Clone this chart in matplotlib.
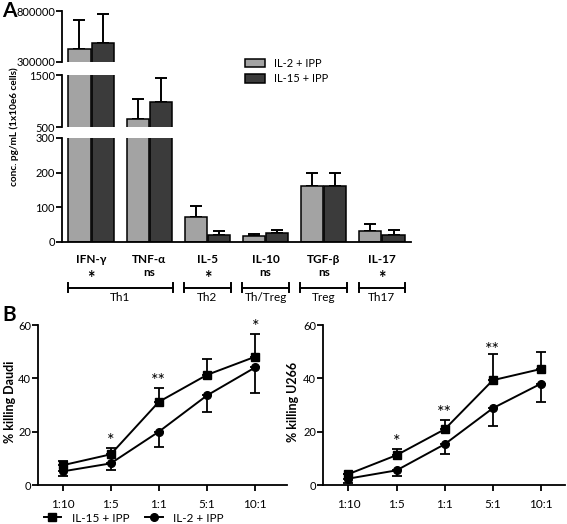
import numpy as np
import matplotlib
matplotlib.use('Agg')
import matplotlib.pyplot as plt

plt.rcParams['font.family'] = ['Lato', 'DejaVu Sans']
plt.rcParams['axes.linewidth'] = 1.3
plt.rcParams['xtick.major.width'] = 1.3
plt.rcParams['ytick.major.width'] = 1.3

# ---- panel A data ----
cytokines = ['IFN-γ', 'TNF-α', 'IL-5', 'IL-10', 'TGF-β', 'IL-17']
signif_a = ['*', 'ns', '*', 'ns', 'ns', '*']
il2_mean = [427000, 660, 72, 18, 162, 33]
il2_err = [285000, 373, 33, 4, 37, 18]
il15_mean = [486000, 975, 19, 26, 162, 20]
il15_err = [284000, 473, 14, 10, 37, 15]
groups = ['Th1', 'Th2', 'Th/Treg', 'Treg', 'Th17']
group_span = [(0, 1), (2, 2), (3, 3), (4, 4), (5, 5)]

# ---- panel B data ----
ratios = ['1:10', '1:5', '1:1', '5:1', '10:1']
daudi_il15 = [7.4, 11.5, 31.2, 41.3, 48.1]
daudi_il15_err = [1.7, 2.4, 5.1, 6.0, 8.6]
daudi_il2 = [5.1, 8.1, 20.0, 33.6, 44.1]
daudi_il2_err = [1.7, 2.3, 5.6, 6.3, 9.6]
daudi_stars = ['', '*', '**', '', '*']
daudi_star_y = [0, 16.5, 39.0, 0, 59.3]
u266_il15 = [4.1, 11.2, 20.9, 39.3, 43.5]
u266_il15_err = [0.0, 2.4, 3.4, 9.7, 6.3]
u266_il2 = [2.4, 5.5, 15.3, 28.8, 38.0]
u266_il2_err = [1.5, 2.0, 3.8, 6.6, 7.0]
u266_stars = ['', '*', '**', '**', '']
u266_star_y = [0, 16.2, 27.0, 50.6, 0]

W, H = 567, 524
fig = plt.figure(figsize=(W / 100, H / 100), dpi=100)


def px_axes(x0, x1, y0, y1):
    # pixel box (top-left origin) -> axes
    return fig.add_axes([x0 / W, 1 - y1 / H, (x1 - x0) / W, (y1 - y0) / H])


light, dark = '#a3a3a3', '#3b3b3b'
x = np.arange(len(cytokines))
bw, off = 0.38, 0.2

# three segments of the broken axis
seg_boxes = [(11, 62), (75, 127), (138, 242)]
seg_lims = [(300000, 800000), (500, 1500), (0, 300)]
seg_ticks = [[300000, 800000], [500, 1500], [0, 100, 200, 300]]
axes_a = []
for (y0, y1), lim, tks in zip(seg_boxes, seg_lims, seg_ticks):
    ax = px_axes(62, 411, y0, y1)
    b1 = ax.bar(x - off, il2_mean, bw, color=light, edgecolor='k', lw=1.1,
                label='IL-2 + IPP', zorder=2)
    b2 = ax.bar(x + off, il15_mean, bw, color=dark, edgecolor='k', lw=1.1,
                label='IL-15 + IPP', zorder=2)
    ax.errorbar(x - off, il2_mean, yerr=[np.zeros(6), il2_err], fmt='none',
                ecolor='k', elinewidth=1.4, capsize=4.2, capthick=1.4, zorder=1)
    ax.errorbar(x + off, il15_mean, yerr=[np.zeros(6), il15_err], fmt='none',
                ecolor='k', elinewidth=1.4, capsize=4.2, capthick=1.4, zorder=1)
    ax.set_ylim(lim)
    ax.set_xlim(-0.5, 5.5)
    ax.set_yticks(tks)
    ax.tick_params(axis='y', length=4, labelsize=8, pad=1)
    for s in ['top', 'right', 'bottom']:
        ax.spines[s].set_visible(False)
    ax.set_xticks([])
    axes_a.append(ax)

axb = axes_a[-1]
axb.spines['bottom'].set_visible(True)
trans = axb.get_xaxis_transform()
for i, (c, s) in enumerate(zip(cytokines, signif_a)):
    axb.text(i, -0.165, c, transform=trans, ha='center', va='center',
             fontsize=8.5, fontweight='bold')
    if s == '*':
        axb.text(i, -0.355, s, transform=trans, ha='center', va='center',
                 fontweight='bold', fontsize=13)
    else:
        axb.text(i, -0.295, s, transform=trans, ha='center', va='center',
                 fontweight='bold', fontsize=8.5)
for g, (a, b) in zip(groups, group_span):
    xs = [a - 0.4, b + 0.4]
    axb.plot(xs, [-0.44, -0.44], transform=trans, color='k', lw=1.4, clip_on=False)
    for xx in xs:
        axb.plot([xx, xx], [-0.395, -0.485], transform=trans, color='k', lw=1.4,
                 clip_on=False)
    axb.text((a + b) / 2, -0.535, g, transform=trans, ha='center', va='center',
             fontsize=8.5)

fig.legend(handles=[b1, b2], loc='upper left', bbox_to_anchor=(235 / W, 1 - 48 / H),
           frameon=False, fontsize=8, handlelength=1.8, handleheight=0.8,
           handletextpad=0.8, labelspacing=0.4)
fig.text(14 / W, 1 - 127 / H, 'conc. pg/mL (1x10e6 cells)', rotation=90,
         ha='center', va='center', fontsize=7.2, fontweight='bold')
fig.text(2 / W, 1 - 11 / H, 'A', fontsize=15, fontweight='bold', va='center')
fig.text(2 / W, 1 - 315 / H, 'B', fontsize=15, fontweight='bold', va='center')


# ---- panel B ----
def killing(ax, s15, e15, s2, e2, stars, star_y, ylabel, xr, lab_x):
    xb = np.arange(len(ratios))
    l15, = ax.plot(xb, s15, color='k', marker='s', ms=5.5, lw=1.4, label='IL-15 + IPP')
    l2, = ax.plot(xb, s2, color='k', marker='o', ms=5.5, lw=1.4, label='IL-2 + IPP')
    ax.errorbar(xb, s15, yerr=[np.zeros(5), e15], fmt='none', ecolor='k',
                elinewidth=1.3, capsize=3.5, capthick=1.3)
    ax.errorbar(xb, s2, yerr=[e2, np.zeros(5)], fmt='none', ecolor='k',
                elinewidth=1.3, capsize=3.5, capthick=1.3)
    for i, (st, yy) in enumerate(zip(stars, star_y)):
        if st:
            ax.text(i, yy, st, ha='center', va='center', fontsize=13)
    ax.set_ylim(0, 60)
    ax.set_xlim(xr)
    ax.set_yticks([0, 20, 40, 60])
    ax.set_xticks(xb, ratios)
    ax.tick_params(length=4, pad=1)
    ax.tick_params(axis='y', labelsize=8)
    ax.tick_params(axis='x', labelsize=8.5, pad=6)
    ax.spines['top'].set_visible(False)
    ax.spines['right'].set_visible(False)
    ax.set_ylabel(ylabel, fontsize=9, fontweight='bold')
    ax.yaxis.set_label_coords(lab_x, 0.52)
    return l15, l2


ax1 = px_axes(38, 287, 325, 485)
l15, l2 = killing(ax1, daudi_il15, daudi_il15_err, daudi_il2, daudi_il2_err,
                  daudi_stars, daudi_star_y, '% killing Daudi', (-0.51, 4.66), -0.09)
ax2 = px_axes(323, 565, 325, 485)
killing(ax2, u266_il15, u266_il15_err, u266_il2, u266_il2_err,
        u266_stars, u266_star_y, '% killing U266', (-0.53, 4.5), -0.1)

fig.legend(handles=[l15, l2], loc='center left', bbox_to_anchor=(33 / W, 1 - 518 / H),
           ncol=2, frameon=False, fontsize=8.5, handlelength=1.5,
           handletextpad=0.9, columnspacing=1.3)

fig.savefig('out.png', dpi=100)
